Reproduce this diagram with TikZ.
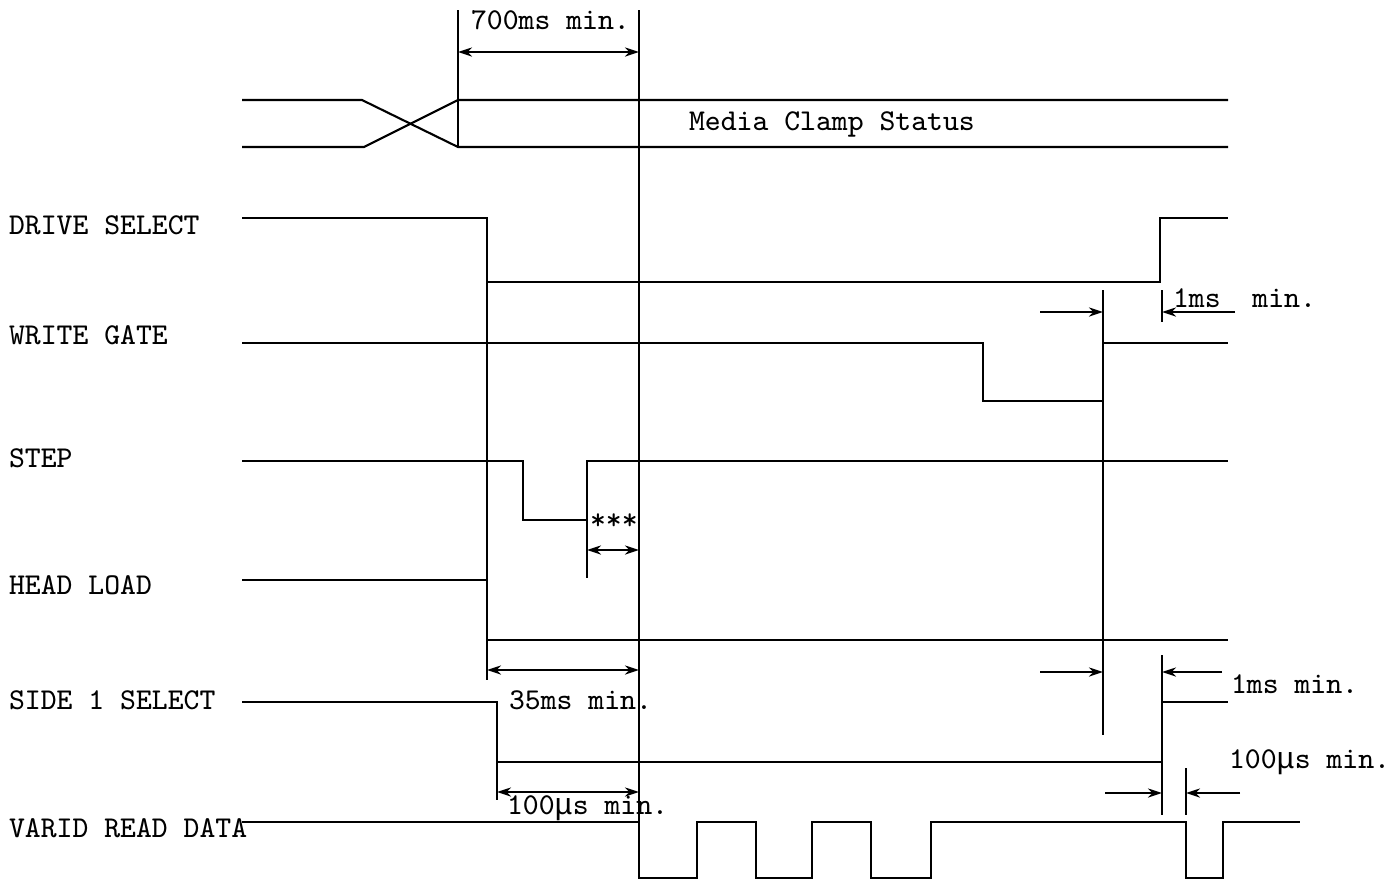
\documentclass[tikz,border=0pt]{standalone}
\usepackage{fontspec}
\newfontfamily\mufont{Liberation Mono}
\usetikzlibrary{arrows.meta}

\begin{document}
\begin{tikzpicture}[x=0.01cm,y=-0.01cm,line width=0.6pt,>={Stealth[length=4pt,width=2.6pt]},
  lbl/.style={anchor=west,inner sep=0pt,font=\ttfamily\fontsize{8.6}{10}\selectfont},
  ext/.style={line width=0.45pt}]
\useasboundingbox (0,0) rectangle (1399,881);
\def\xs{242}\def\xe{1228}
% 信号名
\foreach \y/\t [count=\i] in {225/DRIVE SELECT,335/WRITE GATE,458/STEP,585/HEAD LOAD,700/SIDE 1 SELECT,828/VARID READ DATA}
  \node[lbl] (sig\i) at (8,\y) {\t};
% 介质夹紧状态
\draw (\xs,100) -- (362,100) -- (458,147) -- (\xe,147);
\draw (\xs,147) -- (364,147) -- (458,100) -- (\xe,100);
\node[lbl] (mcs) at (688,124) {Media Clamp Status};
% 各信号波形
\draw (\xs,218) -| (487,282) -| (1160,218) -- (\xe,218);
\draw (\xs,343) -| (983,401) -| (1103,343) -- (\xe,343);
\draw (\xs,461) -| (523,520) -| (587,461) -- (\xe,461);
\draw (\xs,580) -| (487,640) -- (\xe,640);
\draw (\xs,702) -| (497,762) -| (1162,702) -- (\xe,702);
\draw (\xs,822) -| (639,878) -| (697,822) -| (756,878) -| (812,822) -| (871,878)
  -| (931,822) -| (1186,878) -| (1223,822) -- (1300,822);
% 尺寸界线
\draw[ext] (458,10) -- (458,147);
\draw[ext] (639,10) -- (639,878);
\draw[ext] (487,282) -- (487,680);
\draw[ext] (1103,290) -- (1103,735);
\draw[ext] (1162,290) -- (1162,322);
\draw[ext] (1162,655) -- (1162,702);
\draw[ext] (1162,762) -- (1162,815);
\draw[ext] (1186,768) -- (1186,815);
\draw[ext] (497,762) -- (497,800);
\draw[ext] (587,520) -- (587,578);
% 时间间隔
\draw[ext,<->] (458,52) -- (639,52);
\draw[ext,<->] (587,550) -- (639,550);
\draw[ext,<->] (487,670) -- (639,670);
\draw[ext,<->] (497,792) -- (639,792);
\draw[ext,->] (1040,312) -- (1103,312);
\draw[ext,->] (1235,312) -- (1162,312);
\draw[ext,->] (1040,672) -- (1103,672);
\draw[ext,->] (1222,672) -- (1162,672);
\draw[ext,->] (1105,793) -- (1162,793);
\draw[ext,->] (1240,793) -- (1186,793);
% 标注文字
\node[lbl] (t700) at (470,20) {700ms min.};
\node[lbl] (tstar) at (589,522) {***};
\node[lbl] (t1a) at (1172,298) {1ms\ \ min.};
\node[lbl] (t35) at (508,700) {35ms min.};
\node[lbl] (t100a) at (506,808) {100{\mufont μ}s min.};
\node[lbl] (t1b) at (1230,684) {1ms min.};
\node[lbl] (t100b) at (1228,762) {100{\mufont μ}s min.};
\end{tikzpicture}
\end{document}
